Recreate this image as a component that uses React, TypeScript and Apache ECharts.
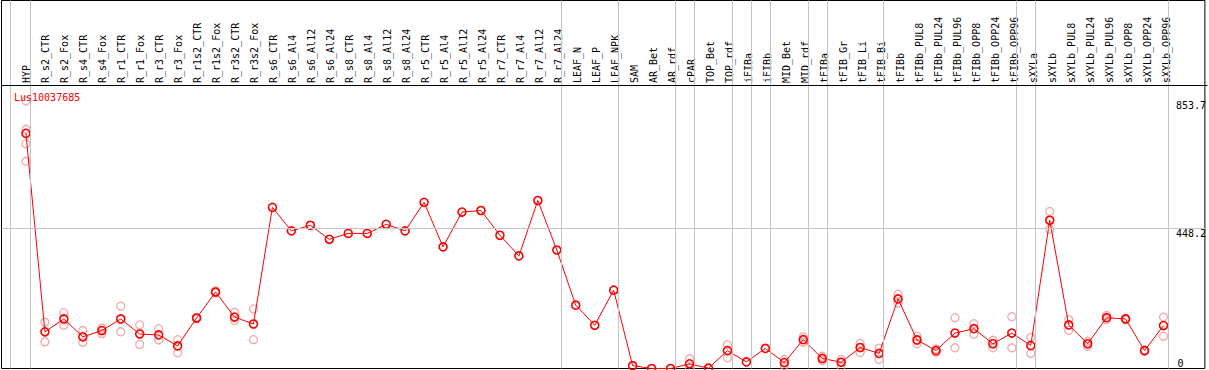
import React, { useEffect, useRef } from "react";
import * as echarts from "echarts";

const categories = [
  "HYP", "R_s2_CTR", "R_s2_Fox", "R_s4_CTR", "R_s4_Fox", "R_r1_CTR", "R_r1_Fox", "R_r3_CTR", "R_r3_Fox",
  "R_r1s2_CTR", "R_r1s2_Fox", "R_r3s2_CTR", "R_r3s2_Fox", "R_s6_CTR", "R_s6_Al4", "R_s6_Al12", "R_s6_Al24",
  "R_s8_CTR", "R_s8_Al4", "R_s8_Al12", "R_s8_Al24", "R_r5_CTR", "R_r5_Al4", "R_r5_Al12", "R_r5_Al24",
  "R_r7_CTR", "R_r7_Al4", "R_r7_Al12", "R_r7_Al24", "LEAF_N", "LEAF_P", "LEAF_NPK", "SAM", "AR_Bet", "AR_rdf",
  "cPAR", "TOP_Bet", "TOP_rdf", "iFIBa", "iFIBb", "MID_Bet", "MID_rdf", "tFIBa", "tFIB_Gr", "tFIB_Li", "tFIB_Bi",
  "tFIBb", "tFIBb_PUL8", "tFIBb_PUL24", "tFIBb_PUL96", "tFIBb_OPP8", "tFIBb_OPP24", "tFIBb_OPP96", "sXYLa",
  "sXYLb", "sXYLb_PUL8", "sXYLb_PUL24", "sXYLb_PUL96", "sXYLb_OPP8", "sXYLb_OPP24", "sXYLb_OPP96",
];

const means = [
  750, 117, 158, 101, 121, 158, 110, 107, 72,
  161, 244, 164, 142, 514, 439, 457, 412,
  431, 431, 460, 439, 530, 388, 499, 504,
  425, 359, 536, 378, 202, 138, 250, 9, 0, 0,
  15, 1, 57, 21, 64, 19, 92, 32, 20, 67, 48,
  222, 91, 57, 113, 127, 79, 113, 73,
  473, 139, 79, 162, 158, 57, 137,
];

const replicates: number[][] = [
  [853.7, 763, 717, 661], [148, 85], [178, 138], [121, 84], [129, 112], [199, 117], [139, 77], [127, 91], [92, 50],
  [163, 159], [247, 241], [179, 153], [190, 92], [], [], [], [],
  [], [], [], [], [], [], [], [],
  [], [], [], [], [], [], [], [], [], [],
  [31, 0], [], [76, 34], [], [], [29, 9], [101, 84], [39, 25], [29, 7], [80, 51], [65, 29],
  [237, 209], [103, 79], [62, 52], [162, 66], [143, 109], [90, 66], [165, 66], [99, 48],
  [501, 444], [156, 122], [87, 71], [169, 156], [160, 156], [59, 55], [164, 103],
];

const yLabelValuesTop = [448.2, 853.7];
const yLabelValuesBottom = [0];
const yGridValues = [448.2];
const groupBoundaryAfter = [0, 28, 31, 34, 35, 37, 38, 39, 41, 42, 45, 52, 53, 60];
const firstBoundary = -0.816;

const FONT = "DejaVu Sans Mono";

export default function App() {
  const ref = useRef<HTMLDivElement>(null);

  useEffect(() => {
    if (!ref.current) return;
    const chart = echarts.init(ref.current, null, { renderer: "svg" });

    const step = 19;
    const gridLeft = 1.5;
    const gridW = 1206;
    const firstX = 26;
    const xMin = -(firstX - gridLeft) / step;
    const xMax = xMin + gridW / step;
    const gridTop = 0.5;
    const gridH = 368;
    const pxPerUnit = 140.5 / 448.2;
    const yMax = gridH / pxPerUnit;
    const boundaryOffset = 4.5 / step;

    const lineData = means.map((v, i) => [i, v]);
    const repData: number[][] = [];
    replicates.forEach((arr, i) => arr.forEach((v) => repData.push([i, v])));

    const vLines = [{ xAxis: firstBoundary }, ...groupBoundaryAfter.map((i) => ({ xAxis: i + boundaryOffset }))];
    const hLines = yGridValues.map((v) => ({ yAxis: v }));

    const yCommon = {
      type: "value",
      gridIndex: 0,
      min: 0,
      max: yMax,
      position: "right",
      axisLine: { show: false },
      axisTick: { show: false },
      splitLine: { show: false },
    };

    chart.setOption({
      animation: false,
      title: {
        text: "Lus10037685",
        left: 9,
        top: 87,
        textStyle: { color: "#ff0000", fontSize: 10, fontFamily: FONT, fontWeight: "normal" },
      },
      grid: [
        { left: gridLeft, top: gridTop, width: gridW, height: gridH, show: true, borderColor: "#000", borderWidth: 1, backgroundColor: "transparent" },
        { left: 16.5, top: 86, width: 1159, height: 282.5 },
      ],
      xAxis: [
        { type: "value", gridIndex: 0, min: xMin, max: xMax, show: false },
        {
          type: "category",
          gridIndex: 1,
          data: categories,
          position: "top",
          boundaryGap: true,
          axisLine: { show: false },
          axisTick: { show: false },
          splitLine: { show: false },
          axisLabel: { interval: 0, rotate: 90, margin: 3, fontSize: 10, fontFamily: FONT, color: "#000" },
        },
      ],
      yAxis: [
        {
          ...yCommon,
          axisLabel: {
            show: true,
            inside: true,
            align: "left",
            verticalAlign: "top",
            margin: 29,
            fontSize: 10,
            fontFamily: FONT,
            color: "#000",
            customValues: yLabelValuesTop,
            formatter: (v: number) => String(v),
          },
        },
        {
          ...yCommon,
          axisLabel: {
            show: true,
            inside: true,
            align: "left",
            verticalAlign: "bottom",
            margin: 27.5,
            fontSize: 10,
            fontFamily: FONT,
            color: "#000",
            customValues: yLabelValuesBottom,
            formatter: (v: number) => String(v),
          },
        },
        { type: "value", gridIndex: 1, show: false },
      ],
      graphic: [
        {
          type: "line",
          shape: { x1: 1.5, y1: 85.5, x2: 1207.5, y2: 85.5 },
          style: { stroke: "#000", lineWidth: 1 },
          z: 10,
          silent: true,
        },
      ],
      series: [
        {
          type: "scatter",
          name: "gridlines",
          xAxisIndex: 0,
          yAxisIndex: 0,
          data: [],
          silent: true,
          markLine: {
            silent: true,
            symbol: "none",
            label: { show: false },
            animation: false,
            lineStyle: { color: "#c4c4c4", width: 1, type: "solid" },
            emphasis: { disabled: true },
            data: [...vLines, ...hLines],
          },
          z: 1,
        },
        {
          type: "scatter",
          name: "replicates",
          xAxisIndex: 0,
          yAxisIndex: 0,
          data: repData,
          symbol: "circle",
          symbolSize: 8,
          itemStyle: { color: "rgba(0,0,0,0)", borderColor: "#f09494", borderWidth: 1.3 },
          silent: true,
          z: 2,
        },
        {
          type: "line",
          name: "mean",
          xAxisIndex: 0,
          yAxisIndex: 0,
          data: lineData,
          symbol: "circle",
          symbolSize: 8,
          showAllSymbol: true,
          lineStyle: { color: "#ff0000", width: 1 },
          itemStyle: { color: "rgba(0,0,0,0)", borderColor: "#ff0000", borderWidth: 1.6 },
          silent: true,
          z: 3,
        },
      ],
    });

    return () => chart.dispose();
  }, []);

  return (
    <div
      ref={ref}
      style={{ position: "absolute", left: 0, top: 0, width: 1209, height: 370, background: "#fff" }}
    />
  );
}
